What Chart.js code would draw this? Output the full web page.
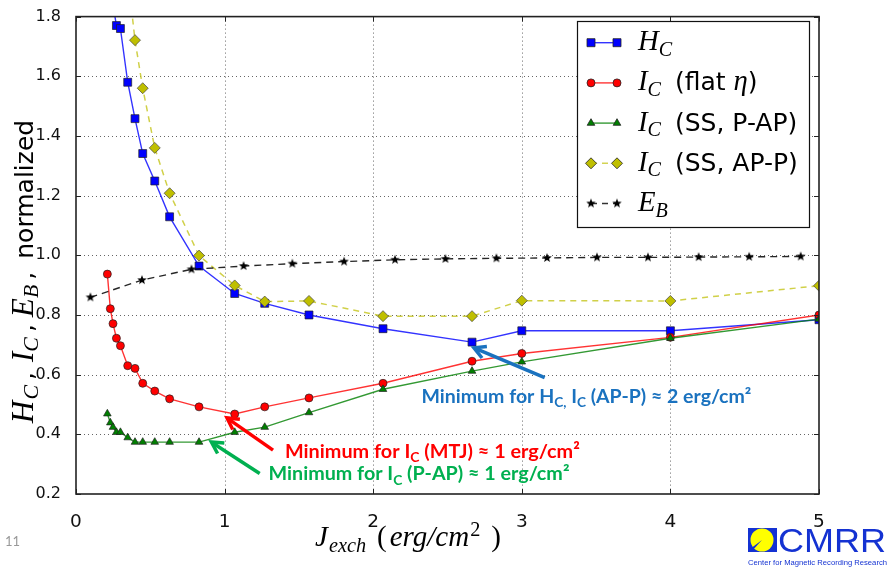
<!DOCTYPE html>
<html>
<head>
<meta charset="utf-8">
<script src="https://cdn.jsdelivr.net/npm/chart.js@4.4.0/dist/chart.umd.min.js"></script>
<style>
  html, body { margin: 0; padding: 0; background: #fff; }
  #wrap { width: 888px; height: 568px; position: relative; }
</style>
</head>
<body>
<div id="wrap"><canvas id="chart" width="888" height="568"></canvas></div>
<script>
// J_exch values shared by H_C and the I_C curves
const jexch    = [0.211, 0.231, 0.249, 0.272, 0.299, 0.348, 0.397, 0.449, 0.530, 0.630, 0.828, 1.068, 1.270, 1.568, 2.066, 2.665, 3.000, 4.000, 5.000];
const hc       = [2.00, 1.90, 1.84, 1.770, 1.760, 1.580, 1.458, 1.341, 1.249, 1.129, 0.964, 0.872, 0.839, 0.800, 0.754, 0.709, 0.747, 0.747, 0.784];
const icFlat   = [0.937, 0.821, 0.771, 0.722, 0.697, 0.630, 0.621, 0.571, 0.545, 0.519, 0.492, 0.468, 0.492, 0.522, 0.571, 0.645, 0.671, 0.725, 0.800];
const icPAP    = [0.469, 0.439, 0.424, 0.407, 0.407, 0.389, 0.374, 0.374, 0.374, 0.374, 0.374, 0.407, 0.424, 0.473, 0.551, 0.612, 0.643, 0.722, 0.786];
const icAPP    = [null, null, null, null, null, 1.94, 1.721, 1.560, 1.360, 1.208, 0.999, 0.899, 0.845, 0.847, 0.796, 0.796, 0.848, 0.847, 0.898];
// E_B has its own x positions
const ebX      = [0.097, 0.444, 0.777, 1.128, 1.456, 1.804, 2.147, 2.486, 2.829, 3.170, 3.506, 3.849, 4.190, 4.530, 4.877];
const eb       = [0.859, 0.917, 0.953, 0.964, 0.972, 0.979, 0.985, 0.988, 0.990, 0.991, 0.993, 0.993, 0.994, 0.995, 0.996];

const xTicks = [0, 1, 2, 3, 4, 5];
const yTicks = [0.2, 0.4, 0.6, 0.8, 1.0, 1.2, 1.4, 1.6, 1.8];

// arrows: [tailX, tailY, tipX, tipY] in data units
const arrowBlue  = [3.154, 0.590, 2.678, 0.690];
const arrowRed   = [1.326, 0.347, 1.016, 0.455];
const arrowGreen = [1.236, 0.269, 0.911, 0.374];

const pts = (xs, ys) => xs.map((x, i) => ({ x: x, y: ys[i] }));

function makeStar(r) {
  const c = document.createElement('canvas');
  const s = Math.ceil(r * 2 + 2);
  c.width = c.height = s;
  const g = c.getContext('2d');
  g.beginPath();
  for (let i = 0; i < 10; i++) {
    const a = -Math.PI / 2 + i * Math.PI / 5;
    const rr = i % 2 ? r * 0.42 : r;
    g.lineTo(s / 2 + Math.cos(a) * rr, s / 2 + Math.sin(a) * rr);
  }
  g.closePath();
  g.fillStyle = '#000';
  g.fill();
  return c;
}
const star = makeStar(5);

// rich text: parts [{t, m (math italic serif), u (upright serif), sub, sup, gap}]
function partFont(p, size, o) {
  let sz = size;
  if (p.m || p.u) sz = size * (o.mathScale || 1);
  if (p.sub || p.sup) sz *= 0.7;
  if (p.m) return 'italic ' + sz + 'px "Liberation Serif"';
  if (p.u) return sz + 'px "Liberation Serif"';
  return (o.weight || '') + ' ' + sz + 'px ' + o.family;
}
function richWidth(ctx, parts, size, o) {
  let w = 0;
  parts.forEach(p => { ctx.font = partFont(p, size, o); w += ctx.measureText(p.t).width + (p.gap || 0); });
  return w;
}
function drawRich(ctx, parts, x, y, size, o) {
  let cx = x;
  ctx.fillStyle = o.color || '#000';
  ctx.textBaseline = 'alphabetic';
  ctx.textAlign = 'left';
  parts.forEach(p => {
    ctx.font = partFont(p, size, o);
    let dy = 0;
    if (p.sub) dy = size * (o.subDrop || 0.22);
    if (p.sup) dy = -size * 0.42;
    cx += (p.gap || 0);
    ctx.fillText(p.t, cx, y + dy);
    cx += ctx.measureText(p.t).width;
  });
}
function fitSize(ctx, parts, target, o) {
  const w = richWidth(ctx, parts, 20, o);
  return 20 * target / w;
}

function marker(ctx, kind, x, y) {
  ctx.save();
  ctx.lineWidth = 0.8;
  ctx.strokeStyle = '#222';
  ctx.beginPath();
  if (kind === 'rect') {
    ctx.fillStyle = '#0000ff';
    ctx.rect(x - 4, y - 4, 8, 8);
  } else if (kind === 'circle') {
    ctx.fillStyle = '#ff0000';
    ctx.arc(x, y, 4, 0, Math.PI * 2);
  } else if (kind === 'triangle') {
    ctx.fillStyle = '#008000';
    const r = 4.4;
    ctx.moveTo(x, y - r);
    ctx.lineTo(x + r * 0.866, y + r * 0.5);
    ctx.lineTo(x - r * 0.866, y + r * 0.5);
    ctx.closePath();
  } else if (kind === 'diamond') {
    ctx.fillStyle = '#bfbf00';
    const r = 5.5;
    ctx.moveTo(x, y - r); ctx.lineTo(x + r, y); ctx.lineTo(x, y + r); ctx.lineTo(x - r, y);
    ctx.closePath();
  } else if (kind === 'star') {
    ctx.drawImage(star, x - star.width / 2, y - star.height / 2);
    ctx.restore();
    return;
  }
  ctx.fill();
  ctx.stroke();
  ctx.restore();
}

function arrow(ctx, xs, ys, a, color) {
  const x0 = xs.getPixelForValue(a[0]), y0 = ys.getPixelForValue(a[1]);
  const x1 = xs.getPixelForValue(a[2]), y1 = ys.getPixelForValue(a[3]);
  const ang = Math.atan2(y1 - y0, x1 - x0);
  ctx.save();
  ctx.strokeStyle = color;
  ctx.lineWidth = 3.5;
  ctx.lineCap = 'butt';
  ctx.beginPath();
  ctx.moveTo(x0, y0);
  ctx.lineTo(x1 - Math.cos(ang) * 2, y1 - Math.sin(ang) * 2);
  ctx.stroke();
  ctx.lineJoin = 'miter';
  ctx.beginPath();
  const h = 13;
  ctx.moveTo(x1 - Math.cos(ang - 0.5) * h, y1 - Math.sin(ang - 0.5) * h);
  ctx.lineTo(x1, y1);
  ctx.lineTo(x1 - Math.cos(ang + 0.5) * h, y1 - Math.sin(ang + 0.5) * h);
  ctx.stroke();
  ctx.restore();
}

const dottedGrid = {
  id: 'dottedGrid',
  beforeDatasetsDraw(chart) {
    const ctx = chart.ctx;
    const a = chart.chartArea;
    const xs = chart.scales.x, ys = chart.scales.y;
    ctx.save();
    ctx.strokeStyle = 'rgba(0,0,0,0.6)';
    ctx.lineWidth = 1;
    ctx.setLineDash([1, 3]);
    ctx.beginPath();
    xTicks.slice(1, -1).forEach(v => {
      const px = Math.round(xs.getPixelForValue(v)) + 0.5;
      ctx.moveTo(px, a.top); ctx.lineTo(px, a.bottom);
    });
    yTicks.slice(1, -1).forEach(v => {
      const py = Math.round(ys.getPixelForValue(v)) + 0.5;
      ctx.moveTo(a.left, py); ctx.lineTo(a.right, py);
    });
    ctx.stroke();
    ctx.restore();
  }
};

const decor = {
  id: 'decor',
  afterDraw(chart) {
    const ctx = chart.ctx;
    const a = chart.chartArea;
    const xs = chart.scales.x, ys = chart.scales.y;

    // frame and inward ticks
    ctx.save();
    ctx.strokeStyle = '#222';
    ctx.lineWidth = 1.6;
    ctx.strokeRect(a.left, a.top, a.right - a.left, a.bottom - a.top);
    ctx.lineWidth = 1;
    ctx.beginPath();
    xTicks.forEach(v => {
      const px = Math.round(xs.getPixelForValue(v)) + 0.5;
      ctx.moveTo(px, a.bottom); ctx.lineTo(px, a.bottom - 5);
      ctx.moveTo(px, a.top); ctx.lineTo(px, a.top + 5);
    });
    yTicks.forEach(v => {
      const py = Math.round(ys.getPixelForValue(v)) + 0.5;
      ctx.moveTo(a.left, py); ctx.lineTo(a.left + 5, py);
      ctx.moveTo(a.right, py); ctx.lineTo(a.right - 5, py);
    });
    ctx.stroke();
    ctx.restore();

    // legend
    const lx = 577, ly = 21, lw = 232, lh = 206;
    ctx.save();
    ctx.fillStyle = '#fff';
    ctx.fillRect(lx, ly, lw, lh);
    ctx.strokeStyle = '#111';
    ctx.lineWidth = 1.2;
    ctx.strokeRect(lx + 0.5, ly + 0.5, lw, lh);
    const rows = [
      { kind: 'rect', color: 'rgba(0,0,255,0.8)', dash: [], parts: [{ t: 'H', m: 1 }, { t: 'C', m: 1, sub: 1 }] },
      { kind: 'circle', color: 'rgba(255,0,0,0.8)', dash: [], parts: [{ t: 'I', m: 1 }, { t: 'C', m: 1, sub: 1 }, { t: '(flat ', gap: 14 }, { t: 'η', m: 1 }, { t: ')' }] },
      { kind: 'triangle', color: 'rgba(0,128,0,0.8)', dash: [], parts: [{ t: 'I', m: 1 }, { t: 'C', m: 1, sub: 1 }, { t: '(SS, P-AP)', gap: 14 }] },
      { kind: 'diamond', color: 'rgba(200,200,40,0.8)', dash: [6, 5], parts: [{ t: 'I', m: 1 }, { t: 'C', m: 1, sub: 1 }, { t: '(SS, AP-P)', gap: 14 }] },
      { kind: 'star', color: 'rgba(0,0,0,0.8)', dash: [6, 5], parts: [{ t: 'E', m: 1 }, { t: 'B', m: 1, sub: 1 }] }
    ];
    rows.forEach((r, i) => {
      const y = 42.7 + i * 40.2;
      ctx.save();
      ctx.strokeStyle = r.color;
      ctx.lineWidth = 1.4;
      ctx.setLineDash(r.dash);
      ctx.beginPath();
      ctx.moveTo(591, y); ctx.lineTo(617, y);
      ctx.stroke();
      ctx.restore();
      marker(ctx, r.kind, 591, y);
      marker(ctx, r.kind, 617, y);
      drawRich(ctx, r.parts, 638, y + 7.5, 25, { family: '"DejaVu Sans"', mathScale: 1.15 });
    });
    ctx.restore();

    // y axis title, spaced like mathtext and centred on the span seen in the picture
    const yo = { family: '"DejaVu Sans"', mathScale: 1.25 };
    const yl = [{ t: 'H', m: 1 }, { t: 'C', m: 1, sub: 1, gap: 1 }, { t: ',', gap: 5 },
                { t: 'I', m: 1, gap: 10 }, { t: 'C', m: 1, sub: 1, gap: 0 }, { t: ',', gap: 5 },
                { t: 'E', m: 1, gap: 7 }, { t: 'B', m: 1, sub: 1, gap: 0 }, { t: ',', gap: 5 },
                { t: 'normalized', gap: 13 }];
    const ylw = richWidth(ctx, yl, 25, yo);
    ctx.save();
    ctx.translate(32.5, 271.5);
    ctx.rotate(-Math.PI / 2);
    drawRich(ctx, yl, -ylw / 2, 0, 25, yo);
    ctx.restore();

    // x axis title
    const xo = { family: '"DejaVu Sans"', mathScale: 1.16 };
    const xl = [{ t: 'J', m: 1 }, { t: 'exch', m: 1, sub: 1, gap: 1 }, { t: '(', u: 1, gap: 11 },
                { t: 'erg/cm', m: 1, gap: 3 }, { t: '2', u: 1, sup: 1, gap: 1 }, { t: ')', u: 1, gap: 11 }];
    const xlw = richWidth(ctx, xl, 25, xo);
    drawRich(ctx, xl, 408 - xlw / 2, 546, 25, xo);

    // annotations
    const ao = { family: 'Lato', weight: 'bold', subDrop: 0.25 };
    const blueT = [{ t: 'Minimum for H' }, { t: 'C,', sub: 1 }, { t: ' I' }, { t: 'C', sub: 1 }, { t: ' (AP-P) \u2248 2 erg/cm\u00b2' }];
    const redT = [{ t: 'Minimum for I' }, { t: 'C', sub: 1 }, { t: ' (MTJ) \u2248 1 erg/cm\u00b2' }];
    const greenT = [{ t: 'Minimum for I' }, { t: 'C', sub: 1 }, { t: ' (P-AP) \u2248 1 erg/cm\u00b2' }];
    drawRich(ctx, blueT, 421.5, 402.5, fitSize(ctx, blueT, 330, ao), Object.assign({ color: '#1a72bf' }, ao));
    drawRich(ctx, redT, 285, 457.5, fitSize(ctx, redT, 295, ao), Object.assign({ color: '#ff0000' }, ao));
    drawRich(ctx, greenT, 268.5, 480, fitSize(ctx, greenT, 301, ao), Object.assign({ color: '#00b050' }, ao));
    arrow(ctx, xs, ys, arrowBlue, '#1a72bf');
    arrow(ctx, xs, ys, arrowRed, '#ff0000');
    arrow(ctx, xs, ys, arrowGreen, '#00b050');

    // slide number
    ctx.save();
    ctx.font = '13px Lato';
    ctx.fillStyle = '#999';
    ctx.textAlign = 'left';
    ctx.textBaseline = 'alphabetic';
    ctx.fillText('11', 5, 546);
    ctx.restore();

    // CMRR logo
    ctx.save();
    ctx.fillStyle = '#1432d2';
    ctx.fillRect(748, 528, 29, 24);
    ctx.fillStyle = '#ffff00';
    ctx.beginPath();
    ctx.arc(762, 540, 11.5, 0, Math.PI * 2);
    ctx.fill();
    ctx.fillStyle = '#1432d2';
    ctx.beginPath();
    ctx.moveTo(762, 540); ctx.lineTo(750, 549); ctx.lineTo(752, 551); ctx.closePath();
    ctx.fill();
    ctx.font = '34px "Liberation Sans"';
    ctx.textBaseline = 'alphabetic';
    const cw = ctx.measureText('CMRR').width;
    ctx.translate(778, 552);
    ctx.scale(108 / cw, 1);
    ctx.fillText('CMRR', 0, 0);
    ctx.restore();
    ctx.save();
    ctx.font = '8px "Liberation Sans"';
    ctx.fillStyle = '#1432d2';
    const sw = ctx.measureText('Center for Magnetic Recording Research').width;
    ctx.translate(748, 564.5);
    ctx.scale(139 / sw, 1);
    ctx.fillText('Center for Magnetic Recording Research', 0, 0);
    ctx.restore();
  }
};

const ptBorder = '#222';
new Chart(document.getElementById('chart'), {
  type: 'line',
  data: {
    datasets: [
      { label: 'H_C', data: pts(jexch, hc), order: 5,
        borderColor: 'rgba(0,0,255,0.8)', borderWidth: 1.4, pointStyle: 'rect', pointRadius: 5.6,
        pointBackgroundColor: '#0000ff', pointBorderColor: ptBorder, pointBorderWidth: 0.7 },
      { label: 'I_C (flat eta)', data: pts(jexch, icFlat), order: 4,
        borderColor: 'rgba(255,0,0,0.8)', borderWidth: 1.4, pointStyle: 'circle', pointRadius: 4,
        pointBackgroundColor: '#ff0000', pointBorderColor: ptBorder, pointBorderWidth: 0.7 },
      { label: 'I_C (SS, P-AP)', data: pts(jexch, icPAP), order: 3,
        borderColor: 'rgba(0,128,0,0.8)', borderWidth: 1.4, pointStyle: 'triangle', pointRadius: 4.4,
        pointBackgroundColor: '#008000', pointBorderColor: ptBorder, pointBorderWidth: 0.7 },
      { label: 'I_C (SS, AP-P)', data: pts(jexch, icAPP), order: 2,
        borderColor: 'rgba(200,200,40,0.85)', borderWidth: 1.5, borderDash: [6, 5], pointStyle: 'rectRot', pointRadius: 5.5,
        pointBackgroundColor: '#bfbf00', pointBorderColor: '#444', pointBorderWidth: 0.7 },
      { label: 'E_B', data: pts(ebX, eb), order: 1,
        borderColor: 'rgba(0,0,0,0.85)', borderWidth: 1.4, borderDash: [7, 5], pointStyle: star, pointRadius: 5 }
    ]
  },
  options: {
    responsive: false,
    animation: false,
    devicePixelRatio: 1,
    spanGaps: false,
    layout: { padding: { top: 12, right: 69, left: 0, bottom: 0 } },
    elements: { line: { tension: 0 } },
    plugins: { legend: { display: false }, tooltip: { enabled: false }, title: { display: false } },
    scales: {
      x: {
        type: 'linear', min: 0, max: 5,
        afterFit: s => { s.height = 74; },
        afterBuildTicks: s => { s.ticks = xTicks.map(v => ({ value: v })); },
        ticks: { font: { family: 'DejaVu Sans', size: 18.5 }, color: '#111', padding: 9, maxRotation: 0,
                 callback: v => String(v) },
        grid: { display: false },
        border: { display: false }
      },
      y: {
        type: 'linear', min: 0.2, max: 1.8,
        afterFit: s => { s.width = 76; },
        afterBuildTicks: s => { s.ticks = yTicks.map(v => ({ value: v })); },
        ticks: { font: { family: 'DejaVu Sans', size: 16 }, color: '#111', padding: 7,
                 callback: v => Number(v).toFixed(1) },
        grid: { display: false },
        border: { display: false }
      }
    }
  },
  plugins: [dottedGrid, decor]
});
</script>
</body>
</html>
